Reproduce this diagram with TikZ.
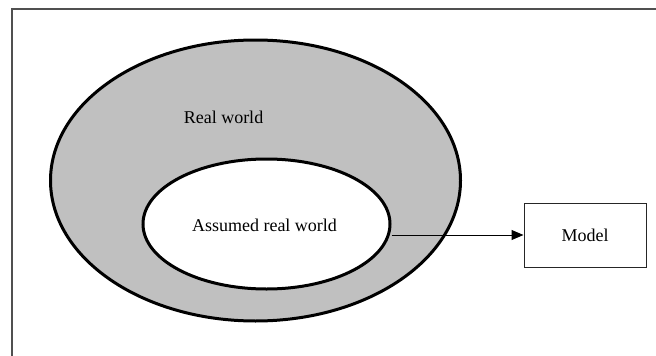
\documentclass[tikz,border=0pt]{standalone}
\usepackage{fontspec}
\setmainfont{Liberation Serif}
\usetikzlibrary{shapes.geometric,arrows.meta}
\definecolor{ringgray}{HTML}{C0C0C0}
\definecolor{framegray}{HTML}{505050}
\begin{document}
\begin{tikzpicture}[x=1pt,y=-1pt,
  lbl/.style={font=\fontsize{18}{20}\selectfont, inner sep=0pt},
  world/.style={ellipse, draw=black, line width=3pt, inner sep=0pt},
  modelbox/.style={draw=black!85, line width=1pt, minimum width=122pt, minimum height=64pt, inner sep=0pt, font=\fontsize{18}{20}\selectfont},
  link/.style={line width=1pt, -{Triangle[length=12pt,width=10pt]}}]
\useasboundingbox (0,0) rectangle (656,356);
% frame (top and left edges only)
\coordinate (ftr) at (656,9);
\coordinate (ftl) at (12,9);
\coordinate (fbl) at (12,356);
\draw[framegray, line width=1.6pt] (ftr) -- (ftl) -- (fbl);
% ellipses
\node[world, fill=ringgray, minimum width=410pt, minimum height=281pt] (outer) at (255.5,180.5) {};
\node[world, fill=white, minimum width=247pt, minimum height=130pt] (inner) at (266.5,224) {};
\node[lbl] (innertext) at (264.5,225) {Assumed real world};
\node[lbl] (realtext) at (223.5,117) {Real world};
% model box
\node[modelbox] (model) at (585,235) {Model};
\draw[link] (model.west -| inner.east) -- (model.west);
\end{tikzpicture}
\end{document}
